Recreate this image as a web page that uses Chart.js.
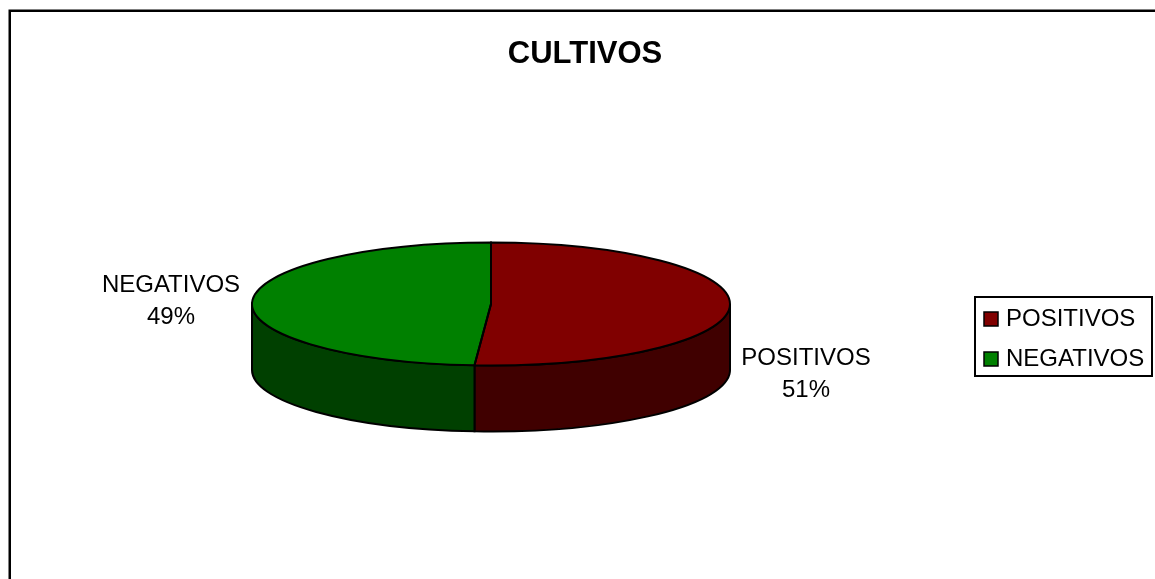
<!DOCTYPE html>
<html>
<head>
<meta charset="utf-8">
<title>CULTIVOS</title>
<script src="https://cdn.jsdelivr.net/npm/chart.js@4"></script>
<style>
    html, body { margin: 0; padding: 0; background: #fff; overflow: hidden; }
    #div_chart { width: 1155px; height: 579px; }
</style>
</head>
<body>
<div id="div_chart"><canvas id="myChart" width="1155" height="579"></canvas></div>
<script>
var titulo = "CULTIVOS";
var categorias = ["POSITIVOS", "NEGATIVOS"];
var valores = [51.1, 48.9];
var cores = ["#800000", "#008000"];
var coresLado = ["#400000", "#004000"];

// the pie is flattened and extruded by hand, Chart.js has no 3D
var centroX = 491, centroY = 304, raioX = 239, raioY = 61.5, altura = 66;
var fonte = "Liberation Sans, Arial, sans-serif";
var tamFonte = 24;
var rotulos = [{x: 806, y: 358}, {x: 171, y: 285}];
var legendaBox = {x: 975, y: 297, w: 177, h: 79};
var padLegenda = 16;

function arcos(chart) {
    return chart.getDatasetMeta(0).data;
}

var pie3d = {
    id: 'pie3d',
    beforeDraw: function(chart) {
        var ctx = chart.ctx;

        //Moldura
        ctx.save();
        ctx.strokeStyle = '#000';
        ctx.lineWidth = 2.5;
        ctx.beginPath();
        ctx.moveTo(9.75, 579);
        ctx.lineTo(9.75, 10.75);
        ctx.lineTo(1155, 10.75);
        ctx.stroke();
        ctx.restore();

        //Título
        chart.titleBlock.left = 15;
        chart.titleBlock.right = 1155;

        //Legenda
        var lg = chart.legend;
        var w = lg.right - lg.left;
        lg.left = legendaBox.x + 9 - padLegenda;
        lg.right = lg.left + w;
        lg.top = legendaBox.y + 10 - padLegenda;
        var topo = lg.top + padLegenda;
        lg.legendHitBoxes.forEach(function(hb) {
            hb.left = lg.left + padLegenda;
            hb.top = topo;
            topo += hb.height + padLegenda;
        });
    },
    beforeDatasetsDraw: function(chart) {
        var ctx = chart.ctx;
        var data = arcos(chart);

        //Lado da pizza (somente a metade da frente)
        data.forEach(function(arc, i) {
            var ini = Math.max(arc.startAngle, 0);
            var fim = Math.min(arc.endAngle, Math.PI);
            if (fim <= ini) {
                return;
            }
            ctx.save();
            ctx.beginPath();
            ctx.ellipse(centroX, centroY, raioX, raioY, 0, ini, fim);
            ctx.ellipse(centroX, centroY + altura, raioX, raioY, 0, fim, ini, true);
            ctx.closePath();
            ctx.fillStyle = coresLado[i];
            ctx.fill();
            ctx.strokeStyle = '#000';
            ctx.lineWidth = 2;
            ctx.stroke();
            ctx.restore();
        });

        var a = data[0];
        ctx.save();
        ctx.translate(centroX, centroY);
        ctx.scale(1, raioY / raioX);
        ctx.translate(-a.x, -a.y);
    },
    afterDatasetsDraw: function(chart) {
        var ctx = chart.ctx;
        ctx.restore();

        //Contorno do topo
        arcos(chart).forEach(function(arc) {
            ctx.save();
            ctx.beginPath();
            ctx.moveTo(centroX, centroY);
            ctx.ellipse(centroX, centroY, raioX, raioY, 0, arc.startAngle, arc.endAngle);
            ctx.closePath();
            ctx.strokeStyle = '#000';
            ctx.lineWidth = 2;
            ctx.stroke();
            ctx.restore();
        });
    },
    afterDraw: function(chart) {
        var ctx = chart.ctx;
        ctx.save();

        //Caixa da legenda
        ctx.strokeStyle = '#000';
        ctx.lineWidth = 2;
        ctx.strokeRect(legendaBox.x, legendaBox.y, legendaBox.w, legendaBox.h);

        //Quadrados da legenda
        chart.legend.legendItems.forEach(function(item, i) {
            var hb = chart.legend.legendHitBoxes[i];
            var meio = hb.top + hb.height / 2;
            ctx.fillStyle = item.fillStyle;
            ctx.fillRect(hb.left, meio - 7, 14, 14);
            ctx.lineWidth = 1.5;
            ctx.strokeRect(hb.left, meio - 7, 14, 14);
        });

        //Rótulos de dados
        ctx.fillStyle = '#000';
        ctx.font = tamFonte + 'px ' + fonte;
        ctx.textAlign = 'center';
        ctx.textBaseline = 'middle';
        categorias.forEach(function(nome, i) {
            ctx.fillText(nome, rotulos[i].x, rotulos[i].y);
            ctx.fillText(Math.round(valores[i]) + '%', rotulos[i].x, rotulos[i].y + 32);
        });
        ctx.restore();
    }
};

function graph() {
    const ctx = document.getElementById('myChart').getContext('2d');
    const myChart = new Chart(ctx, {
        type: 'pie',
        data: {
            labels: categorias,
            datasets: [
                {
                    data: valores,
                    backgroundColor: cores,
                    borderWidth: 0,
                    clip: false
                }
            ]
        },
        options: {
            responsive: false,
            animation: false,
            radius: raioX,
            rotation: 0,
            plugins: {
                title: {
                    display: true,
                    text: titulo,
                    color: '#000',
                    padding: {top: 36, bottom: 0},
                    font: {family: fonte, size: 31, weight: 'bold'}
                },
                legend: {
                    display: true,
                    position: 'right',
                    align: 'start',
                    labels: {
                        color: '#000',
                        boxWidth: 10,
                        boxHeight: 14,
                        padding: padLegenda,
                        font: {family: fonte, size: tamFonte}
                    }
                },
                tooltip: {enabled: false}
            }
        },
        plugins: [pie3d]
    });
}

window.onload = function() {
    graph();
}
</script>
</body>
</html>
